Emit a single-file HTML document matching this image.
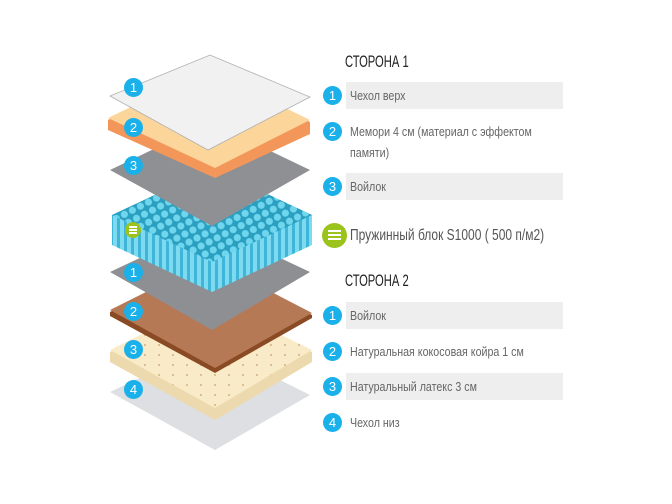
<!DOCTYPE html>
<html><head><meta charset="utf-8"><style>
body{margin:0;width:672px;height:504px;background:#fff;overflow:hidden;position:relative;font-family:"Liberation Sans",sans-serif;}
.h{position:absolute;left:345px;font-size:17px;color:#222;transform:scaleX(0.66);transform-origin:left top;white-space:nowrap;}
.bar{position:absolute;left:346px;width:217px;height:27px;background:#eeeeee;}
.t{position:absolute;left:350px;font-size:13px;color:#666;line-height:21px;transform:scaleX(0.82);transform-origin:left top;white-space:nowrap;}
.c{position:absolute;left:323px;width:19px;height:19px;border-radius:50%;background:#1ab0ea;color:#fff;font-size:13px;text-align:center;line-height:19px;}
</style></head><body>
<svg width="340" height="504" style="position:absolute;left:0;top:0">
<defs>
<pattern id="sp" width="9" height="9" patternUnits="userSpaceOnUse" patternTransform="rotate(-27)">
<rect width="9" height="9" fill="#2a9fc0"/><circle cx="4.5" cy="4.5" r="3.6" fill="#6fd6ee"/></pattern>
<pattern id="st" width="7" height="10" patternUnits="userSpaceOnUse">
<rect width="7" height="10" fill="#3fb6d8"/><rect x="1" width="4" height="10" fill="#7ddaf0"/></pattern>
<pattern id="dots" width="14" height="10" patternUnits="userSpaceOnUse"><rect width="14" height="10" fill="#faebc8"/><circle cx="5" cy="5" r="0.9" fill="#c9a070"/></pattern>
</defs>
<polygon points="110,392 210,345 310,395 215,450" fill="#dedfe2"/>
<polygon points="110,352 210,302 312,352 312,362 215,420 110,362" fill="#ecd9ad"/>
<polygon points="110,350 210,300 312,350 215,408" fill="url(#dots)"/>
<polygon points="110,312 210,262 312,315 312,318 215,373 110,316" fill="#8a4a23"/>
<polygon points="110,310 210,260 312,313 215,368" fill="#b57a55"/>
<polygon points="110,272 210,225 310,272 212,330" fill="#8e8f93"/>
<polygon points="112,215 212,168 312,215 312,245 212,292 112,245" fill="url(#st)"/>
<polygon points="112,215 212,168 312,215 212,262" fill="url(#sp)"/>
<polygon points="110,170 210,122 310,170 212,226" fill="#8f9094"/>
<polygon points="108,120 208,72 310,122 310,134 215,178 108,130" fill="#f3965a"/>
<polygon points="108,118 208,70 310,120 215,168" fill="#fcd59a"/>
<polygon points="110,96 210,55 310,97 208,150" fill="#f1f1f1" stroke="#b0b0b0" stroke-width="0.8"/>
</svg>
<div class="c" style="left:124px;top:78px">1</div>
<div class="c" style="left:124px;top:118px">2</div>
<div class="c" style="left:124px;top:156px">3</div>
<div style="position:absolute;left:125px;top:222px;width:16px;height:16px;border-radius:50%;background:#9ac31c"><div style="position:absolute;left:4px;top:4px;width:8px;height:1.5px;background:#fff;box-shadow:0 3px #fff,0 6px #fff"></div></div>
<div class="c" style="left:124px;top:263px">1</div>
<div class="c" style="left:124px;top:302px">2</div>
<div class="c" style="left:124px;top:340px">3</div>
<div class="c" style="left:124px;top:380px">4</div>

<div class="h" style="top:52px">СТОРОНА 1</div>
<div class="bar" style="top:82px"></div><div class="c" style="top:86px">1</div><div class="t" style="top:85px">Чехол верх</div>
<div class="c" style="top:122px">2</div><div class="t" style="top:121px">Мемори 4 см (материал с эффектом<br>памяти)</div>
<div class="bar" style="top:173px"></div><div class="c" style="top:177px">3</div><div class="t" style="top:176px">Войлок</div>
<div style="position:absolute;left:322px;top:223px;width:25px;height:25px;border-radius:50%;background:#9ac31c"><div style="position:absolute;left:6px;top:7px;width:13px;height:2px;background:#fff;box-shadow:0 4px #fff,0 8px #fff"></div></div>
<div class="t" style="top:225px;font-size:16px;color:#555;transform:scaleX(0.75)">Пружинный блок S1000 ( 500 п/м2)</div>
<div class="h" style="top:271px">СТОРОНА 2</div>
<div class="bar" style="top:302px"></div><div class="c" style="top:306px">1</div><div class="t" style="top:305px">Войлок</div>
<div class="c" style="top:342px">2</div><div class="t" style="top:341px">Натуральная кокосовая койра 1 см</div>
<div class="bar" style="top:373px"></div><div class="c" style="top:377px">3</div><div class="t" style="top:376px">Натуральный латекс 3 см</div>
<div class="c" style="top:413px">4</div><div class="t" style="top:412px">Чехол низ</div>
</body></html>
